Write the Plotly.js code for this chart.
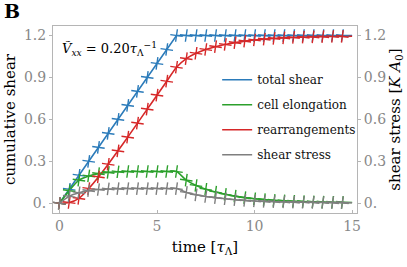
<!DOCTYPE html>
<html>
<head>
<meta charset="utf-8">
<script src="https://cdn.plot.ly/plotly-3.0.1.min.js"></script>
<style>html,body{margin:0;padding:0;background:#fff}#chart{width:407px;height:267px}</style>
</head>
<body>
<div id="chart"></div>
<script>
const time = [0,0.5,1,1.5,2,2.5,3,3.5,4,4.5,5,5.5,6,6.5,7,7.5,8,8.5,9,9.5,10,10.5,11,11.5,12,12.5,13,13.5,14,14.5,15];
const totalShear = [0,0.1,0.2,0.3,0.4,0.5,0.6,0.7,0.8,0.9,1.0,1.1,1.2,1.2,1.2,1.2,1.2,1.2,1.2,1.2,1.2,1.2,1.2,1.2,1.2,1.2,1.2,1.2,1.2,1.2,1.2];
const cellElongation = [0,0.09,0.165,0.195,0.212,0.221,0.225,0.227,0.227,0.227,0.227,0.227,0.227,0.165,0.127,0.1,0.08,0.064,0.051,0.04,0.032,0.026,0.021,0.017,0.014,0.012,0.01,0.008,0.007,0.006,0.005];
const rearrangements = [0,0.005,0.035,0.105,0.188,0.279,0.375,0.473,0.573,0.673,0.773,0.873,0.973,1.035,1.073,1.1,1.12,1.136,1.149,1.16,1.168,1.174,1.179,1.183,1.186,1.188,1.19,1.192,1.193,1.194,1.195];
const shearStress = [0,0.05,0.075,0.09,0.098,0.102,0.104,0.105,0.105,0.105,0.105,0.105,0.105,0.077,0.06,0.048,0.04,0.032,0.025,0.02,0.016,0.013,0.011,0.009,0.008,0.007,0.006,0.005,0.004,0.004,0.003];
const seriesNames = ["total shear","cell elongation","rearrangements","shear stress"];
const xTickVals = [0,5,10,15];
const xTickText = ["0","5","10","15"];
const yTickVals = [0,0.3,0.6,0.9,1.2];
const yTickText = ["0.","0.3","0.6","0.9","1.2"];

const colors = ["#2b7bba","#2ca02c","#d62728","#7f7f7f"];
const serif = "DejaVu Serif";
const series = [totalShear, cellElongation, rearrangements, shearStress];
const nMarkers = time.length - 1;
const traces = [];
series.forEach((ys, i) => {
  traces.push({
    x: time, y: ys, type: "scatter", mode: "lines", name: seriesNames[i],
    legendgroup: "g" + i,
    line: {color: colors[i], width: 1.6, shape: i === 0 ? "linear" : "spline", smoothing: 0.7},
    yaxis: i === 3 ? "y2" : "y", hoverinfo: "skip"
  });
});
series.forEach((ys, i) => {
  traces.push({
    x: time.slice(0, nMarkers), y: ys.slice(0, nMarkers), type: "scatter", mode: "markers",
    showlegend: false,
    marker: {symbol: "cross-thin-open", size: 9, angle: 8, line: {color: colors[i], width: 1.4}, color: colors[i]},
    yaxis: i === 3 ? "y2" : "y", hoverinfo: "skip"
  });
});

const layout = {
  width: 407, height: 267,
  margin: {l: 53, r: 50, t: 26, b: 54},
  paper_bgcolor: "#fff", plot_bgcolor: "#fff",
  font: {family: serif, color: "#000", size: 14},
  showlegend: true,
  legend: {x: 0.54, y: 0.79, xanchor: "left", yanchor: "top", bgcolor: "rgba(0,0,0,0)",
           font: {family: serif, size: 12, color: "#111"}, tracegroupgap: 6},
  xaxis: {
    range: [-0.33, 15.25], tickvals: xTickVals, ticktext: xTickText,
    showgrid: false, zeroline: false, showline: true, linecolor: "#b5b5b5", linewidth: 1, mirror: true,
    ticks: "inside", ticklen: 3, tickcolor: "#b5b5b5",
    tickfont: {family: serif, size: 14, color: "#888"},
    title: {text: "time [<i>τ</i><sub>Λ</sub>]", font: {family: serif, size: 15, color: "#000"}, standoff: 8}
  },
  yaxis: {
    range: [-0.07, 1.268], tickvals: yTickVals, ticktext: yTickText,
    showgrid: false, zeroline: false, showline: true, linecolor: "#b5b5b5", linewidth: 1, mirror: true,
    ticks: "outside", ticklen: 3, tickcolor: "#b5b5b5",
    tickfont: {family: serif, size: 14, color: "#888"},
    title: {text: "cumulative shear", font: {family: serif, size: 15, color: "#000"}, standoff: 4}
  },
  yaxis2: {
    range: [-0.07, 1.268], tickvals: yTickVals, ticktext: yTickText,
    overlaying: "y", side: "right",
    showgrid: false, zeroline: false, showline: false,
    ticks: "outside", ticklen: 3, tickcolor: "#b5b5b5",
    tickfont: {family: serif, size: 14, color: "#888"},
    title: {text: "shear stress [<i>K A</i><sub>0</sub>]", font: {family: serif, size: 15, color: "#000"}, standoff: 4}
  },
  annotations: [
    {xref: "paper", yref: "paper", x: 0.022, y: 0.875, xanchor: "left", yanchor: "middle", showarrow: false,
     text: "<i>Ṽ</i><sub><i>xx</i></sub> = 0.20<i>τ</i><sub>Λ</sub><sup>−1</sup>",
     font: {family: serif, size: 13, color: "#000"}},
    {xref: "paper", yref: "paper", x: -0.168, y: 1.08, xanchor: "left", yanchor: "middle", showarrow: false,
     text: "<b>B</b>", font: {family: serif, size: 19, color: "#000"}}
  ]
};
Plotly.newPlot("chart", traces, layout, {displayModeBar: false, staticPlot: true});
</script>
</body>
</html>
